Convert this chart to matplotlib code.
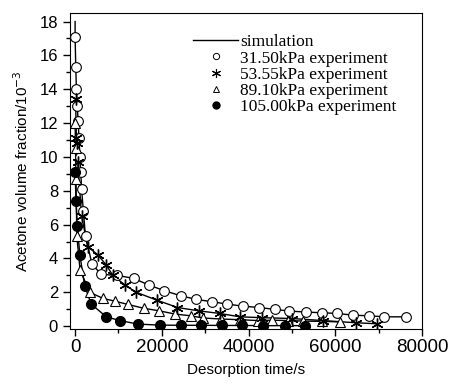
import matplotlib
matplotlib.use("Agg")
import matplotlib.pyplot as plt
from matplotlib.lines import Line2D
from matplotlib.ticker import MultipleLocator

# 31.50 kPa
t_315 = [0, 150, 300, 500, 700, 900, 1100, 1300, 1500, 1900, 2400, 3900, 6000, 9700,
         13500, 17000, 20600, 24300, 27900, 31600, 35100, 38700, 42400, 46000, 49400,
         53300, 56900, 60400, 64000, 67700, 71300, 76300]
v_315 = [17.1, 15.3, 14.0, 13.0, 12.1, 11.1, 10.0, 9.1, 8.1, 6.8, 5.3, 3.67, 3.06, 3.0,
         2.82, 2.43, 2.09, 1.8, 1.58, 1.44, 1.3, 1.18, 1.1, 0.99, 0.89,
         0.83, 0.79, 0.75, 0.65, 0.61, 0.55, 0.55]
# 53.55 kPa
t_5355 = [100, 300, 400, 600, 1500, 2900, 5300, 7200, 8700, 11500, 14100, 18800, 23600,
          28600, 33300, 38000, 43000, 50000, 57100, 64700, 69500]
v_5355 = [13.4, 11.1, 10.8, 9.7, 6.5, 4.7, 4.2, 3.6, 3.0, 2.43, 2.0, 1.54, 1.1,
          0.9, 0.75, 0.55, 0.5, 0.45, 0.33, 0.2, 0.14]
# 89.10 kPa
t_891 = [0, 100, 200, 400, 1150, 3400, 6400, 9100, 12200, 15900, 19300, 23100, 26700,
         29500, 33700, 37900, 42100, 45500, 49000, 52500, 57000, 61000]
v_891 = [12.0, 10.5, 8.7, 5.3, 3.3, 2.0, 1.64, 1.48, 1.28, 1.05, 0.91, 0.71, 0.61,
         0.48, 0.42, 0.38, 0.33, 0.35, 0.33, 0.3, 0.28, 0.25]
# 105.00 kPa
t_105 = [0, 200, 500, 1100, 2200, 3700, 7200, 10300, 14500, 19500, 24400, 29100, 33900,
         38500, 43300, 48300, 53100]
v_105 = [9.1, 7.4, 5.9, 4.2, 2.4, 1.3, 0.55, 0.33, 0.12, 0.06, 0.05, 0.05, 0.04,
         0.04, 0.03, 0.03, 0.03]

# simulation curves
sim_t0 = [0]
sim_v0 = [18.0]

fig = plt.figure(figsize=(4.51, 3.85), dpi=100)
ax = fig.add_axes([0.155, 0.145, 0.781, 0.821])

ax.plot(sim_t0 + t_315, sim_v0 + v_315, color='k', lw=1, zorder=1)
ax.plot(t_5355, v_5355, color='k', lw=1, zorder=1)
ax.plot(t_891, v_891, color='k', lw=1, zorder=1)
ax.plot(t_105, v_105, color='k', lw=1, zorder=1)

ax.plot(t_315, v_315, ls='none', marker='o', ms=7, mfc='white', mec='k', mew=0.8, zorder=3)
ax.plot(t_5355, v_5355, ls='none', marker=(6, 2, 0), ms=8.5, mec='k', mew=1.0, zorder=4)
ax.plot(t_891, v_891, ls='none', marker='^', ms=7.5, mfc='white', mec='k', mew=0.8, zorder=3)
ax.plot(t_105, v_105, ls='none', marker='o', ms=7, mfc='k', mec='k', zorder=3)

ax.set_xlim(-1200, 80000)
ax.set_ylim(-0.18, 18.5)
ax.xaxis.set_major_locator(MultipleLocator(20000))
ax.xaxis.set_minor_locator(MultipleLocator(10000))
ax.yaxis.set_major_locator(MultipleLocator(2))
ax.yaxis.set_minor_locator(MultipleLocator(1))
ax.tick_params(which='major', direction='out', length=5, width=1)
ax.tick_params(which='minor', direction='out', length=3, width=1)
ax.tick_params(axis='x', labelsize=13.5, pad=2)
ax.tick_params(axis='y', labelsize=12)
for lab in ax.get_xticklabels() + ax.get_yticklabels():
    lab.set_family(['Liberation Sans', 'DejaVu Sans'])

ax.set_xlabel('Desorption time/s', fontsize=11, family=['Liberation Sans', 'DejaVu Sans'], labelpad=5)
ax.set_ylabel('Acetone volume fraction/10$^{-3}$', fontsize=11,
              family=['Liberation Sans', 'DejaVu Sans'], labelpad=6)

handles = [
    Line2D([], [], color='k', lw=1),
    Line2D([], [], ls='none', marker='o', ms=4.5, mfc='white', mec='k', mew=0.7),
    Line2D([], [], ls='none', marker=(6, 2, 0), ms=6.5, mec='k', mew=0.8),
    Line2D([], [], ls='none', marker='^', ms=5, mfc='white', mec='k', mew=0.7),
    Line2D([], [], ls='none', marker='o', ms=5, mfc='k', mec='k'),
]
labels = ['simulation', '31.50kPa experiment', '53.55kPa experiment',
          '89.10kPa experiment', '105.00kPa experiment']
ax.legend(handles, labels, loc='upper left', bbox_to_anchor=(0.33, 0.955), frameon=False,
          handlelength=2.6, handletextpad=0.1, labelspacing=0.0, borderaxespad=0,
          prop={'family': ['Liberation Serif', 'DejaVu Serif'], 'size': 12.5})

fig.savefig('out.png', dpi=100)
